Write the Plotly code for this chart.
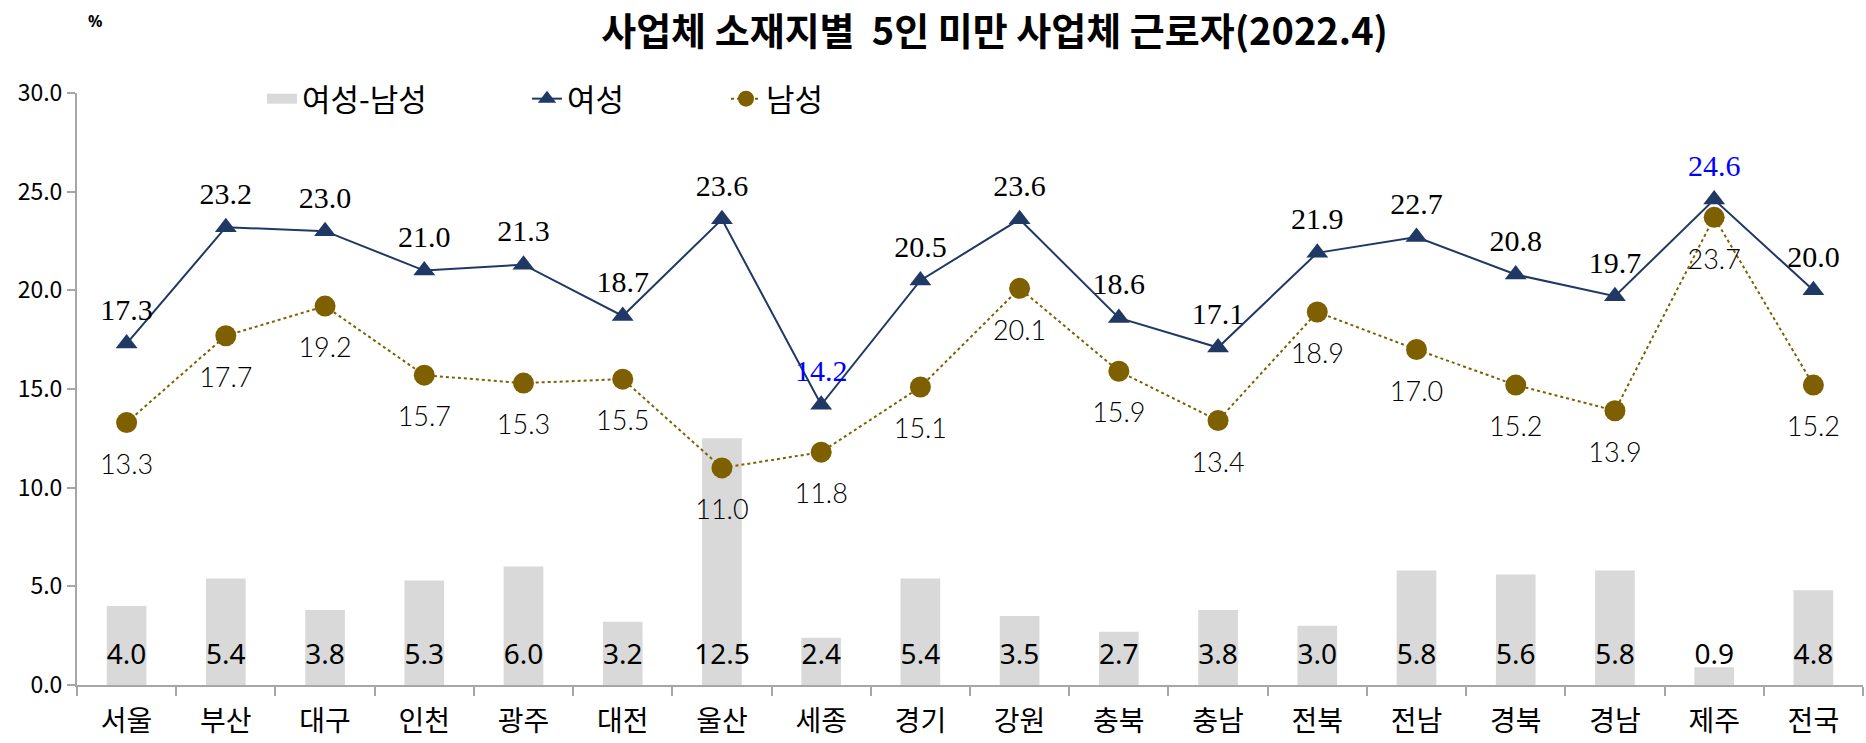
import plotly.graph_objects as go

regions = ["서울", "부산", "대구", "인천", "광주", "대전", "울산", "세종", "경기",
           "강원", "충북", "충남", "전북", "전남", "경북", "경남", "제주", "전국"]
women = [17.3, 23.2, 23.0, 21.0, 21.3, 18.7, 23.6, 14.2, 20.5,
         23.6, 18.6, 17.1, 21.9, 22.7, 20.8, 19.7, 24.6, 20.0]
men = [13.3, 17.7, 19.2, 15.7, 15.3, 15.5, 11.0, 11.8, 15.1,
       20.1, 15.9, 13.4, 18.9, 17.0, 15.2, 13.9, 23.7, 15.2]
diff = [4.0, 5.4, 3.8, 5.3, 6.0, 3.2, 12.5, 2.4, 5.4,
        3.5, 2.7, 3.8, 3.0, 5.8, 5.6, 5.8, 0.9, 4.8]
highlight = ["세종", "제주"]

W, H = 1866, 743
L, R, T, B = 77, 3, 93, 58
PW, PH = W - L - R, H - T - B


def px_x(px):
    return (px - L) / PW


def px_y(py):
    return 1 - (py - T) / PH


women_text = [
    "<span style='color:{}'>{:.1f}</span>".format(
        "#0000FF" if r in highlight else "#000000", v)
    for r, v in zip(regions, women)
]

fig = go.Figure()

fig.add_trace(go.Bar(
    x=regions, y=diff, name="여성-남성",
    marker=dict(color="#D9D9D9", line=dict(width=0)),
    width=0.4, showlegend=False,
))
# legend entry for the bars (wide grey swatch)
fig.add_trace(go.Scatter(
    x=[None], y=[None], name="여성-남성", mode="lines",
    line=dict(color="#D9D9D9", width=16), legend="legend",
))

# bar value labels near the base
fig.add_trace(go.Scatter(
    x=regions, y=[1.4] * len(regions), mode="text",
    text=[f"{v:.1f}" for v in diff],
    textfont=dict(family="Noto Sans", size=28, color="#000000"),
    showlegend=False, hoverinfo="skip",
))

fig.add_trace(go.Scatter(
    x=regions, y=women, name="여성", mode="lines+markers",
    line=dict(color="#1F3864", width=2),
    marker=dict(symbol="triangle-up", size=19, color="#1F3864"),
    legend="legend2",
))

fig.add_trace(go.Scatter(
    x=regions, y=men, name="남성", mode="lines+markers",
    line=dict(color="#7F6000", width=2, dash="dot"),
    marker=dict(symbol="circle", size=21, color="#7F6000"),
    legend="legend3",
))

# data labels (invisible markers set the label offset)
fig.add_trace(go.Scatter(
    x=regions, y=women, mode="markers+text",
    marker=dict(size=24, opacity=0),
    text=women_text, textposition="top center",
    textfont=dict(family="Liberation Serif", size=30, color="#000000", weight=400),
    showlegend=False, hoverinfo="skip",
))
fig.add_trace(go.Scatter(
    x=regions, y=men, mode="markers+text",
    marker=dict(size=48, opacity=0),
    text=[f"{v:.1f}" for v in men], textposition="bottom center",
    textfont=dict(family="Lato", size=27, color="#000000", weight=300),
    showlegend=False, hoverinfo="skip",
))

legend_common = dict(orientation="h", y=px_y(99), yanchor="middle", xanchor="left",
                     font=dict(family="Noto Sans CJK KR", size=31, color="#000000"),
                     bgcolor="rgba(0,0,0,0)")

fig.update_layout(
    width=W, height=H,
    margin=dict(l=L, r=R, t=T, b=B),
    paper_bgcolor="white", plot_bgcolor="white",
    title=dict(text="<b>사업체 소재지별  5인 미만 사업체 근로자(2022.4)</b>",
               x=0.533, xanchor="center", y=0.957, yanchor="middle",
               font=dict(family="Noto Sans CJK KR", size=38, color="#000000")),
    legend=dict(x=px_x(262), **legend_common),
    legend2=dict(x=px_x(527), **legend_common),
    legend3=dict(x=px_x(726), **legend_common),
    showlegend=True,
    annotations=[dict(text="<b>%</b>", x=px_x(95), y=px_y(21), xref="paper", yref="paper",
                      xanchor="center", yanchor="middle",
                      showarrow=False, font=dict(family="Noto Sans", size=16, color="#000000"))],
)

fig.update_xaxes(
    range=[-0.5, len(regions) - 0.5], automargin=False,
    showline=True, linecolor="#A6A6A6", linewidth=2,
    ticks="outside", tickson="boundaries", ticklen=9, tickcolor="#A6A6A6", tickwidth=2,
    tickfont=dict(family="Noto Sans CJK KR", size=28, color="#000000"),
    ticklabelstandoff=10,
    showgrid=False, zeroline=False,
)
fig.update_yaxes(
    range=[0, 30], tickvals=[0, 5, 10, 15, 20, 25, 30], automargin=False,
    ticktext=["0.0", "5.0", "10.0", "15.0", "20.0", "25.0", "30.0"],
    showline=True, linecolor="#A6A6A6", linewidth=2,
    ticks="outside", ticklen=8, tickcolor="#A6A6A6", tickwidth=2,
    tickfont=dict(family="Noto Sans CJK KR", size=23, color="#000000"),
    showgrid=False, zeroline=False,
)

fig.write_html("out.html", config={"displayModeBar": False},
               post_script="document.body.style.margin='0';")
